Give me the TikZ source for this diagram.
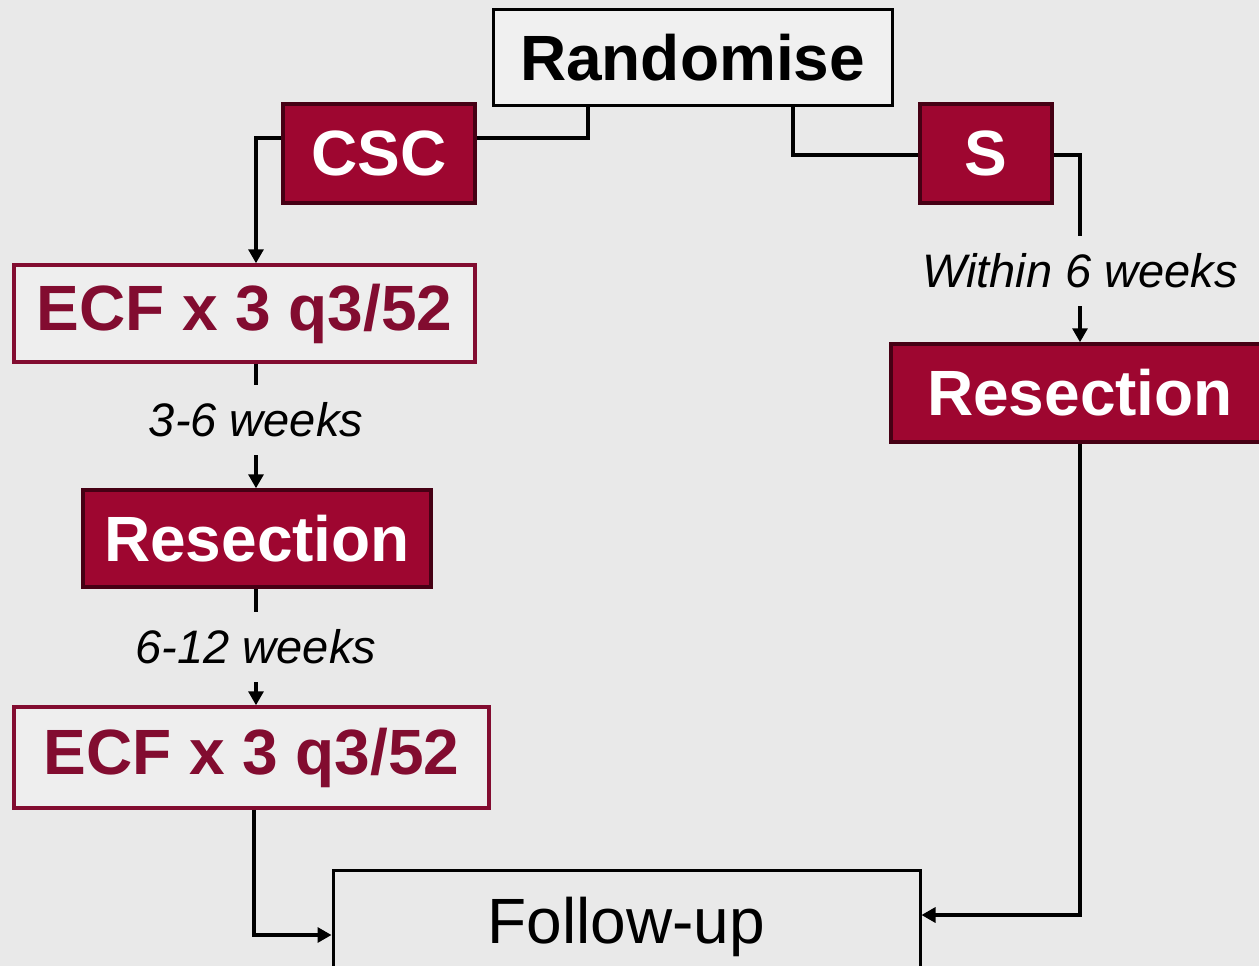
\documentclass[tikz,border=0pt]{standalone}
\usepackage{fontspec}
\setmainfont{Liberation Sans}
\usepackage{xcolor}
\usepackage{tikz}
\usetikzlibrary{arrows.meta,positioning}
\definecolor{bgc}{RGB}{233,233,233}
\definecolor{armred}{RGB}{158,6,48}
\definecolor{armedge}{RGB}{70,0,20}
\definecolor{ecfred}{RGB}{130,12,48}
\newcommand{\bigbf}{\fontsize{64}{66}\selectfont\bfseries}

\begin{document}
\begin{tikzpicture}[
  x=1pt, y=-1pt,
  plainbox/.style={draw=black, line width=3pt, fill=gray!12, inner sep=0pt,
                   font=\bigbf},
  redbox/.style={draw=armedge, line width=3.5pt, fill=armred, text=white,
                 inner sep=0pt, font=\bigbf},
  ecfbox/.style={draw=ecfred, line width=3.5pt, fill=bgc!75!white, text=ecfred,
                 inner sep=0pt, font=\bigbf},
  lbl/.style={fill=bgc, inner xsep=4pt, inner ysep=18pt,
              font=\fontsize{47}{50}\selectfont\itshape},
  arr/.style={-{Triangle[length=14pt,width=15pt]}, line width=3.2pt},
  line/.style={line width=3.2pt}
]
\fill[bgc] (0,0) rectangle (1259,966);
\useasboundingbox (0,0) rectangle (1259,966);
\clip (0,0) rectangle (1259,966);

% boxes
\node[plainbox, minimum width=399, minimum height=95] (rand) at (692.5,57.5) {Randomise};
\node[redbox, minimum width=192, minimum height=99] (csc) at (379,153.5) {CSC};
\node[redbox, minimum width=132, minimum height=99] (s) at (986,153.5) {S};
\node[ecfbox, minimum width=461, minimum height=97] (ecfA) at (244.5,313.5) {ECF x 3 q3/52};
\node[redbox, minimum width=348, minimum height=97] (resA) at (257,538.5) {Resection};
\node[ecfbox, minimum width=475, minimum height=101] (ecfB) at (251.5,757.5) {ECF x 3 q3/52};
\node[redbox, minimum width=378, minimum height=98] (resB) at (1080,393) {Resection};
\node[plainbox, fill=bgc, minimum width=587, minimum height=114,
      font=\fontsize{64}{66}\selectfont] (fup) at (626.5,927) {Follow-up};

% corner points
\coordinate (jcsc) at (588,138);
\coordinate (jleft) at (256,138);
\coordinate (js) at (793,155);
\coordinate (jecf) at (254,935);
\coordinate (jres) at (1080,915);

% connectors
\draw[line] (rand.south -| jcsc) |- (csc.east |- jcsc);
\draw[arr] (csc.west |- jleft) -| (ecfA.north -| jleft);
\draw[line] (rand.south -| js) |- (s.west |- js);
\draw[arr] (s.east |- js) -| node[lbl, pos=0.81]{Within 6 weeks} (resB.north);
\draw[arr] (ecfA.south -| jleft) -- node[lbl, pos=0.45]{3-6 weeks} (resA.north -| jleft);
\draw[arr] (resA.south -| jleft) -- node[lbl]{6-12 weeks} (ecfB.north -| jleft);
\draw[arr] (ecfB.south -| jecf) |- (fup.west |- jecf);
\draw[arr] (resB.south) |- (fup.east |- jres);
\end{tikzpicture}
\end{document}
